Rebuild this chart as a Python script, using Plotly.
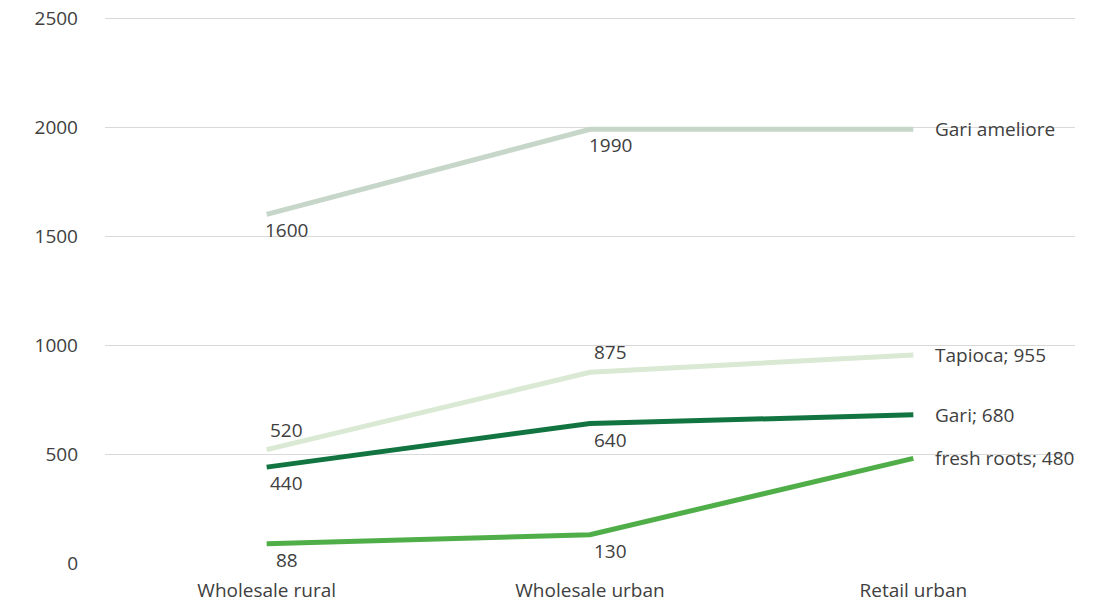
import plotly.graph_objects as go

categories = ["Wholesale rural", "Wholesale urban", "Retail urban"]
gari_ameliore = [1600, 1990, 1990]
tapioca = [520, 875, 955]
gari = [440, 640, 680]
fresh_roots = [88, 130, 480]
y_ticks = [0, 500, 1000, 1500, 2000, 2500]

series = [
    ("Gari ameliore", gari_ameliore, "#c6d6c8", "below", False),
    ("Tapioca", tapioca, "#d9e9d3", "above", True),
    ("Gari", gari, "#127541", "below", True),
    ("fresh roots", fresh_roots, "#4fae48", "below", True),
]

FONT = "Open Sans, DejaVu Sans, sans-serif"
TXT = "#404040"
FS = 19

fig = go.Figure()
annotations = []
for name, vals, color, pos, show_val in series:
    fig.add_trace(go.Scatter(
        x=categories, y=vals, mode="lines", name=name,
        line=dict(color=color, width=5), showlegend=False,
    ))
    for i in range(2):
        annotations.append(dict(
            x=categories[i], y=vals[i], xref="x", yref="y",
            text=str(vals[i]), showarrow=False,
            xshift=20, yshift=(-16 if pos == "below" else 20),
            font=dict(family=FONT, size=FS, color=TXT),
        ))
    end_text = f"{name}; {vals[2]}" if show_val else name
    annotations.append(dict(
        x=categories[2], y=vals[2], xref="x", yref="y",
        text=end_text, showarrow=False, xanchor="left", xshift=20,
        font=dict(family=FONT, size=FS, color=TXT),
    ))

fig.update_layout(
    width=1109, height=605,
    margin=dict(l=105, r=34, t=16, b=42),
    plot_bgcolor="white", paper_bgcolor="white",
    annotations=annotations,
    font=dict(family=FONT, size=FS, color=TXT),
)
fig.update_xaxes(
    type="category", range=[-0.5, 2.5], showgrid=False, zeroline=False,
    showline=False, ticks="", automargin=False, ticklabelstandoff=14,
    tickfont=dict(family=FONT, size=FS, color=TXT),
)
fig.update_yaxes(
    range=[0, 2510], tickvals=y_ticks, showgrid=True, gridcolor="#d9d9d9",
    gridwidth=1, zeroline=False, showline=False, ticks="", automargin=False,
    ticklabelstandoff=26, tickfont=dict(family=FONT, size=FS, color=TXT),
)

fig.write_html("out.html")
